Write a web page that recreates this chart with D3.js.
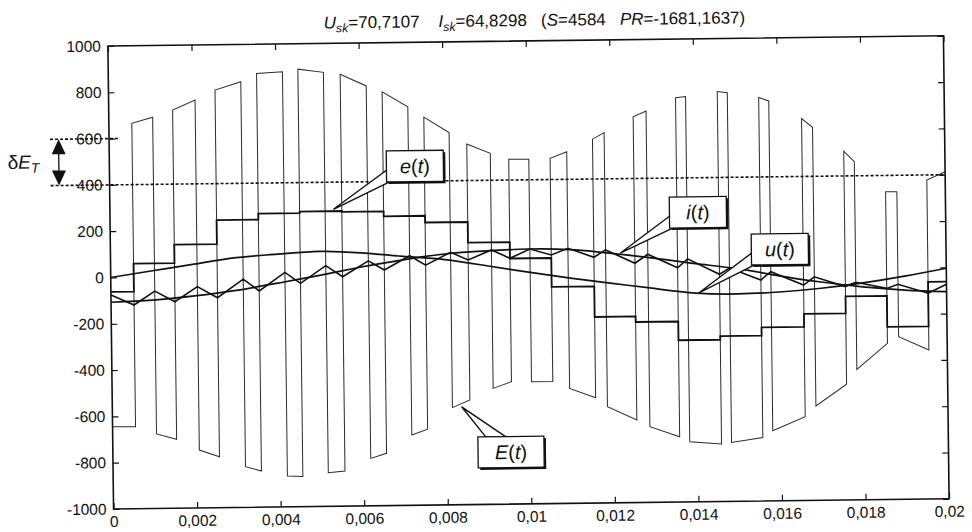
<!DOCTYPE html>
<html>
<head>
<meta charset="utf-8">
<script src="https://cdn.jsdelivr.net/npm/d3@7"></script>
<style>
  body { margin: 0; background: #fff; }
  text { font-family: "Liberation Sans", Arial, sans-serif; fill: #111; }
</style>
</head>
<body>
<div id="vis"></div>
<script>
// switching instants of the converter voltage E(t), seconds
var riseT = [0.00055, 0.00153, 0.00255, 0.00355, 0.00454, 0.00555, 0.00655, 0.00754, 0.00856, 0.00956,
             0.01055, 0.01157, 0.01255, 0.01357, 0.01457, 0.01556, 0.01658, 0.01758, 0.01857, 0.01956];
var fallT = [0.00105, 0.00207, 0.00317, 0.00417, 0.00515, 0.00617, 0.00716, 0.00814, 0.00912, 0.01004,
             0.01095, 0.01185, 0.01286, 0.01381, 0.01481, 0.0158, 0.01684, 0.01783, 0.01884, 0.02];
// E(t) levels at the start / end of each upper pulse
var topStart = [665, 720, 804, 874, 890, 866, 788, 676, 558, 490, 492, 572, 667, 747, 771, 743, 650, 507, 330, 378];
var topEnd = [690, 762, 839, 880, 875, 814, 722, 608, 516, 489, 519, 600, 691, 751, 766, 728, 612, 461, 329, 413];
// E(t) levels of the lower segment before each upper pulse
var lowStart = [-645, -678, -750, -824, -867, -855, -795, -696, -580, -499, -472, -503, -584, -673, -740, -745, -697, -592, -436, -297];
var lowEnd = [-646, -702, -780, -844, -870, -848, -774, -672, -548, -471, -473, -545, -643, -718, -751, -726, -638, -500, -325, -356];
// e(t) staircase, one level per switching period
var eLevels = [-62, 59, 139, 242, 268, 275, 271, 250, 221, 132, 61, -64, -196, -220, -301, -285, -250, -194, -120, -254, -62];
// i(t) ripple, value at every switching instant
var iStart = -76;
var iAtRise = [-120, -108, -93, -66, -35, -9, 18, 37, 57, 62, 74, 62, 34, 12, -18, -45, -69, -78, -88, -111];
var iAtFall = [-61, -44, -14, 13, 40, 58, 78, 91, 99, 101, 102, 93, 72, 50, 8, -10, -34, -60, -71, -73];
// smooth curves sampled every 1 ms
var sampleT = [0, 0.001, 0.002, 0.003, 0.004, 0.005, 0.006, 0.007, 0.008, 0.009, 0.01,
               0.011, 0.012, 0.013, 0.014, 0.015, 0.016, 0.017, 0.018, 0.019, 0.02];
var uValues = [0, 27, 53, 79, 92, 102, 93, 76, 60, 31, 1, -27, -52, -76, -98, -104, -98, -84, -63, -36, -4];
var iFundValues = [-107, -100, -84, -62, -33, -2, 32, 61, 84, 95, 101, 96, 78, 55, 29, 5, -28, -57, -80, -96, -105];

var xTicks = [0, 0.002, 0.004, 0.006, 0.008, 0.01, 0.012, 0.014, 0.016, 0.018, 0.02];
var xTickLabels = ["0", "0,002", "0,004", "0,006", "0,008", "0,01", "0,012", "0,014", "0,016", "0,018", "0,02"];
var yTicks = [-1000, -800, -600, -400, -200, 0, 200, 400, 600, 800, 1000];
var yTickLabels = ["-1000", "-800", "-600", "-400", "-200", "0", "200", "400", "600", "800", "1000"];
var bandTop = 600, bandBottom = 400;

var calloutNames = ["e", "i", "u", "E"];
var calloutTipT = [0.00535, 0.0122, 0.01406, 0.00836];
var calloutTipV = [283, 78, -99, -577];
var calloutBoxT = [0.00663, 0.01339, 0.01534, 0.00874];
var calloutBoxV = [532, 318, 154, -708];

function draw() {
  var width = 972, height = 532;
  var left = 110.7, right = 946.3, top = 40.9, bottom = 503.9;

  var svg = d3.select("#vis").append("svg")
              .attr("width", width)
              .attr("height", height);
  // the scanned figure is slightly tilted
  var g = svg.append("g")
             .attr("transform", "rotate(-0.7," + (left + right) / 2 + "," + (top + bottom) / 2 + ")");

  var x = d3.scaleLinear().domain([0, 0.02]).range([left, right]);
  var y = d3.scaleLinear().domain([-1000, 1000]).range([bottom, top]);

  // helper for italic / subscript runs
  function rich(sel, parts) {
    var wasSub = false;
    parts.forEach(function(p) {
      var ts = sel.append("tspan").text(p[0]);
      if (p[1].indexOf("i") >= 0) ts.attr("font-style", "italic");
      var isSub = p[1].indexOf("s") >= 0;
      if (isSub) ts.attr("font-size", "0.72em");
      if (isSub && !wasSub) ts.attr("dy", 4);
      if (!isSub && wasSub) ts.attr("dy", -4);
      wasSub = isSub;
    });
  }

  // E(t)
  var ePts = [[0, lowStart[0]]];
  riseT.forEach(function(t, k) {
    ePts.push([t, lowEnd[k]]);
    ePts.push([t, topStart[k]]);
    ePts.push([fallT[k], topEnd[k]]);
    if (k < riseT.length - 1) ePts.push([fallT[k], lowStart[k + 1]]);
  });
  var line = d3.line().x(function(d) { return x(d[0]); }).y(function(d) { return y(d[1]); });
  g.append("path")
   .attr("d", line(ePts))
   .attr("fill", "none")
   .attr("stroke", "#2a2a2a")
   .attr("stroke-width", 1);

  // e(t)
  var stepPts = [[0, eLevels[0]]];
  riseT.forEach(function(t, k) { stepPts.push([t, eLevels[k + 1]]); });
  stepPts.push([0.02, eLevels[eLevels.length - 1]]);
  g.append("path")
   .attr("d", line.curve(d3.curveStepAfter)(stepPts))
   .attr("fill", "none")
   .attr("stroke", "#111")
   .attr("stroke-width", 1.8);
  line.curve(d3.curveLinear);

  // i(t) with ripple
  var iPts = [[0, iStart]];
  riseT.forEach(function(t, k) {
    iPts.push([t, iAtRise[k]]);
    iPts.push([fallT[k], iAtFall[k]]);
  });
  g.append("path")
   .attr("d", line(iPts))
   .attr("fill", "none")
   .attr("stroke", "#111")
   .attr("stroke-width", 1.6);

  // smooth curves
  var smooth = d3.line().curve(d3.curveNatural)
                 .x(function(d, i) { return x(sampleT[i]); })
                 .y(function(d) { return y(d); });
  [uValues, iFundValues].forEach(function(vals) {
    g.append("path")
     .attr("d", smooth(vals))
     .attr("fill", "none")
     .attr("stroke", "#111")
     .attr("stroke-width", 1.7);
  });

  // delta E_T band
  g.append("line")
   .attr("x1", left - 59).attr("x2", left + 9)
   .attr("y1", y(bandTop)).attr("y2", y(bandTop))
   .attr("stroke", "#111").attr("stroke-width", 1.6).attr("stroke-dasharray", "3,2");
  g.append("line")
   .attr("x1", left - 59).attr("x2", x(0.02))
   .attr("y1", y(bandBottom)).attr("y2", y(bandBottom))
   .attr("stroke", "#111").attr("stroke-width", 1.6).attr("stroke-dasharray", "3,2");
  var ax = left - 50.5;
  g.append("path")
   .attr("d", "M" + ax + "," + y(bandTop) + "l-7,15h14z")
   .attr("fill", "#111");
  g.append("path")
   .attr("d", "M" + ax + "," + y(bandBottom) + "l-7,-15h14z")
   .attr("fill", "#111");
  g.append("line")
   .attr("x1", ax).attr("x2", ax)
   .attr("y1", y(bandTop) + 14).attr("y2", y(bandBottom) - 14)
   .attr("stroke", "#111").attr("stroke-width", 1.3);
  var dE = g.append("text")
            .attr("x", 9).attr("y", (y(bandTop) + y(bandBottom)) / 2 + 6)
            .attr("font-size", 19);
  rich(dE, [["\u03b4", ""], ["E", "i"], ["T", "is"]]);

  // callouts
  calloutNames.forEach(function(name, k) {
    var w = name === "E" ? 66 : 57, h = 31;
    var bx = x(calloutBoxT[k]), by = y(calloutBoxV[k]);
    var tx = x(calloutTipT[k]), ty = y(calloutTipV[k]);
    var base;
    if (ty > by + h) {
      if (tx < bx) base = [[bx, by + 0.62 * h], [bx + 3, by + h]];
      else base = [[bx + 0.12 * w, by + h], [bx + 0.42 * w, by + h]];
    } else {
      base = [[bx + 0.12 * w, by], [bx + 0.42 * w, by]];
    }
    g.append("path")
     .attr("d", "M" + base[0] + "L" + tx + "," + ty + "L" + base[1] + "Z")
     .attr("fill", "#fff")
     .attr("stroke", "#111")
     .attr("stroke-width", 1.4)
     .attr("stroke-linejoin", "miter");
    g.append("rect")
     .attr("x", bx + 2).attr("y", by + 2)
     .attr("width", w).attr("height", h)
     .attr("fill", "#111");
    g.append("rect")
     .attr("x", bx).attr("y", by)
     .attr("width", w).attr("height", h)
     .attr("fill", "#fff")
     .attr("stroke", "#111")
     .attr("stroke-width", 1.3);
    var lab = g.append("text")
               .attr("x", bx + w / 2).attr("y", by + h / 2 + 7)
               .attr("text-anchor", "middle")
               .attr("font-size", 20);
    rich(lab, [[name, "i"], ["(", ""], ["t", "i"], [")", ""]]);
  });

  // axes, ticks pointing inward
  var axisFont = 15.5;
  var gl = g.append("g").attr("transform", "translate(" + left + ",0)")
            .call(d3.axisLeft(y).tickValues(yTicks).tickSize(-6).tickPadding(7)
                    .tickFormat(function(d, i) { return yTickLabels[i]; }));
  var gb = g.append("g").attr("transform", "translate(0," + bottom + ")")
            .call(d3.axisBottom(x).tickValues(xTicks).tickSize(-6).tickPadding(7)
                    .tickFormat(function(d, i) { return xTickLabels[i]; }));
  var gt = g.append("g").attr("transform", "translate(0," + top + ")")
            .call(d3.axisTop(x).tickValues(xTicks).tickSize(-6).tickFormat(""));
  var gr = g.append("g").attr("transform", "translate(" + right + ",0)")
            .call(d3.axisRight(y).tickValues(yTicks).tickSize(-6).tickFormat(""));
  [gl, gb, gt, gr].forEach(function(a) {
    a.select(".domain").remove();
    a.selectAll(".tick line").attr("stroke", "#111").attr("stroke-width", 1.2);
    a.selectAll("text")
     .attr("font-family", "'Liberation Sans', Arial, sans-serif")
     .attr("font-size", axisFont)
     .attr("fill", "#111");
  });
  g.append("rect")
   .attr("x", left).attr("y", top)
   .attr("width", right - left).attr("height", bottom - top)
   .attr("fill", "none")
   .attr("stroke", "#111")
   .attr("stroke-width", 1.6);

  // title
  var title = g.append("text")
               .attr("x", (left + right) / 2 + 9).attr("y", 26)
               .attr("text-anchor", "middle")
               .attr("font-size", 17)
               .style("white-space", "pre");
  rich(title, [["U", "i"], ["sk", "is"], ["=70,7107    ", ""], ["I", "i"], ["sk", "is"],
               ["=64,8298   (", ""], ["S", "i"], ["=4584   ", ""], ["PR", "i"], ["=-1681,1637)", ""]]);
}

draw();
</script>
</body>
</html>
